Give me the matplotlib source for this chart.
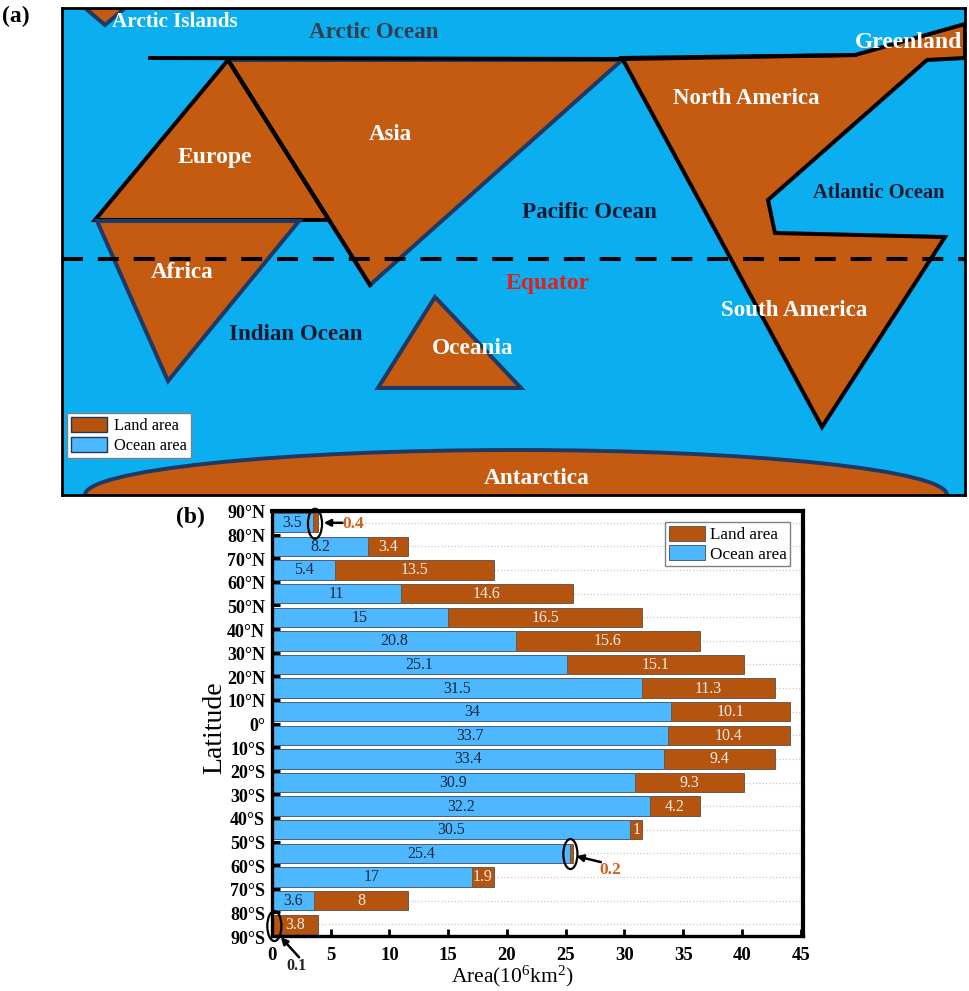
import matplotlib
matplotlib.use("Agg")
import matplotlib.pyplot as plt
from matplotlib.patches import Polygon, Ellipse, Patch
from matplotlib.transforms import ScaledTranslation

plt.rcParams['font.family'] = ['Liberation Serif', 'DejaVu Serif']
plt.rcParams['mathtext.fontset'] = 'custom'
plt.rcParams['mathtext.rm'] = 'Liberation Serif'
plt.rcParams['mathtext.default'] = 'rm'

LAND = '#c55a11'
SEA = '#0bafef'
BAR_LAND = '#b4540f'
BAR_SEA = '#4db8ff'
NAVY = '#1f3864'

W, H = 969, 991

# bar data, north to south
lat_labels = ['90°N', '80°N', '70°N', '60°N', '50°N', '40°N', '30°N', '20°N', '10°N', '0°',
              '10°S', '20°S', '30°S', '40°S', '50°S', '60°S', '70°S', '80°S', '90°S']
ocean = [3.5, 8.2, 5.4, 11, 15, 20.8, 25.1, 31.5, 34, 33.7, 33.4, 30.9, 32.2, 30.5, 25.4, 17, 3.6, 0.1]
land = [0.4, 3.4, 13.5, 14.6, 16.5, 15.6, 15.1, 11.3, 10.1, 10.4, 9.4, 9.3, 4.2, 1, 0.2, 1.9, 8, 3.8]

# schematic map outlines, in image pixels
arctic_islands = [(85, 8), (125, 8), (105, 25)]
north_america = [(622, 58), (855, 55), (965, 24), (965, 58), (927, 60), (768, 200), (775, 233),
                 (945, 237), (822, 427)]
asia = [(228, 60), (622, 60), (370, 285)]
europe = [(228, 60), (329, 220), (95, 220)]
africa = [(97, 221), (299, 221), (168, 381)]
oceania = [(435, 297), (521, 388), (378, 388)]

map_labels = [
    ('Arctic Islands', 175, 22, 'white', 15.2),
    ('Arctic Ocean', 374, 33, '#333f50', 16.6),
    ('Greenland', 909, 42, 'white', 17),
    ('North America', 746, 99, 'white', 16.5),
    ('Asia', 390, 135, 'white', 16.5),
    ('Europe', 215, 157, 'white', 17),
    ('Atlantic Ocean', 879, 193, '#0b1a33', 14.8),
    ('Pacific Ocean', 589, 213, '#0b1a33', 16.6),
    ('Africa', 182, 272, 'white', 16.6),
    ('Equator', 548, 283, '#e0201c', 17),
    ('Indian Ocean', 296, 335, '#0b1a33', 16.6),
    ('South America', 794, 310, 'white', 16.6),
    ('Oceania', 473, 348, 'white', 16.8),
    ('Antarctica', 537, 479, 'white', 16.8),
]


def px_axes(fig, left, top, right, bottom):
    return fig.add_axes([left / W, 1 - bottom / H, (right - left) / W, (bottom - top) / H])


fig = plt.figure(figsize=(W / 100, H / 100), dpi=100)

# (a) map
ax = px_axes(fig, 62, 8, 965, 495)
ax.set_xlim(62, 965)
ax.set_ylim(495, 8)
ax.set_facecolor(SEA)
ax.set_xticks([])
ax.set_yticks([])
for s in ax.spines.values():
    s.set_linewidth(2)
    s.set_color('black')

ax.add_patch(Ellipse((516, 495), 862, 90, fc=LAND, ec=NAVY, lw=2.8))
for pts, edge in [(asia, NAVY), (arctic_islands, NAVY), (europe, 'black'), (africa, NAVY),
                  (oceania, NAVY), (north_america, 'black')]:
    ax.add_patch(Polygon(pts, closed=True, fc=LAND, ec=edge, lw=2.9, joinstyle='miter'))
# asia has a black west side and the top line runs over everything
ax.plot([228, 370], [60, 285], color='black', lw=2.9)
ax.plot([150, 622, 855], [58, 59, 55], color='black', lw=2.9)
ax.plot([62, 965], [259, 259], color='black', lw=2.9, dashes=(5.2, 3.7), dash_capstyle='butt')

for txt, x, y, c, fs in map_labels:
    ax.text(x, y, txt, color=c, fontsize=fs, fontweight='bold', ha='center', va='center')

ax.legend(handles=[Patch(fc=BAR_LAND, ec=NAVY, label='Land area'),
                   Patch(fc=BAR_SEA, ec=NAVY, label='Ocean area')],
          loc='lower left', bbox_to_anchor=(5 / 903, 37 / 487),
          fontsize=11.8, fancybox=False, framealpha=1, edgecolor='#808080',
          borderpad=0.25, labelspacing=0.15, handlelength=2.2, handleheight=1.05,
          handletextpad=0.4, borderaxespad=0)

fig.text(2 / W, 1 - 16 / H, '(a)', fontsize=17, fontweight='bold', va='center')
fig.text(176 / W, 1 - 517 / H, '(b)', fontsize=17, fontweight='bold', va='center')

# (b) stacked bars
bx = px_axes(fig, 272, 511, 803, 936)
y = [17.5 - i for i in range(len(ocean))]
for yi in y:
    bx.axhline(yi, color='#c8c8c8', lw=0.9, ls=':', zorder=0)
bx.barh(y, ocean, height=0.82, color=BAR_SEA, edgecolor='#45607a', lw=0.7, label='Ocean area')
bx.barh(y, land, left=ocean, height=0.82, color=BAR_LAND, edgecolor='#6b5a4c', lw=0.7, label='Land area')

for i, yi in enumerate(y):
    if ocean[i] >= 1:
        bx.text(ocean[i] / 2, yi - 0.02, str(ocean[i]), ha='center', va='center',
                fontsize=11.5, color='#14283c')
    if land[i] >= 1:
        bx.text(ocean[i] + land[i] / 2, yi - 0.02, str(land[i]), ha='center', va='center',
                fontsize=11.5, color='#f5ede6')

bx.set_xlim(0, 45.2)
bx.set_ylim(0, 18)
bx.set_xticks(range(0, 46, 5))
bx.set_yticks(range(19))
bx.set_yticklabels(lat_labels[::-1])
bx.tick_params(axis='x', direction='in', width=2, length=5, labelsize=13.5, pad=8)
bx.tick_params(axis='y', direction='in', width=2.2, length=6, labelsize=13, pad=5)
down = ScaledTranslation(0, -1 / 100, fig.dpi_scale_trans)
for lab in bx.get_xticklabels() + bx.get_yticklabels():
    lab.set_fontweight('bold')
for lab in bx.get_yticklabels():
    lab.set_transform(lab.get_transform() + down)
for s in bx.spines.values():
    s.set_linewidth(2.4)
bx.spines['top'].set_linewidth(3)
bx.spines['right'].set_linewidth(3)
bx.set_xlabel('Area(10$^{6}$km$^{2}$)', fontsize=15.5, labelpad=0, x=0.452)
bx.set_ylabel('Latitude', fontsize=20, labelpad=0, y=0.49)

# callouts for the very thin segments
for cx, cy in [(3.66, 17.46), (25.4, 3.47), (0.2, 0.42)]:
    bx.add_patch(Ellipse((cx, cy), 1.2, 1.27, fc='none', ec='black', lw=1.6, clip_on=False, zorder=5))
arrow = dict(arrowstyle='-|>', color='black', lw=1.8, mutation_scale=10, shrinkA=0, shrinkB=0)
for tip, tail in [((4.4, 17.5), (6.0, 17.5)), ((25.9, 3.38), (28.0, 3.13)), ((0.75, -0.05), (2.3, -0.9))]:
    bx.annotate('', xy=tip, xytext=tail, arrowprops=arrow, annotation_clip=False)
bx.text(6.0, 17.45, '0.4', color='#d2601a', fontsize=12.5, fontweight='bold', va='center')
bx.text(27.9, 2.8, '0.2', color='#d2601a', fontsize=12.5, fontweight='bold', va='center')
bx.text(2.1, -1.28, '0.1', color='#222222', fontsize=11.5, fontweight='bold', va='center', ha='center')

handles, labels = bx.get_legend_handles_labels()
bx.legend(handles[::-1], labels[::-1], loc='upper right', bbox_to_anchor=(0.9755, 0.973),
          fontsize=12.3, fancybox=False, framealpha=1, edgecolor='#808080',
          borderpad=0.2, labelspacing=0.1, handlelength=2.1, handleheight=1.0,
          handletextpad=0.3, borderaxespad=0)

fig.savefig('out.png', dpi=100)
